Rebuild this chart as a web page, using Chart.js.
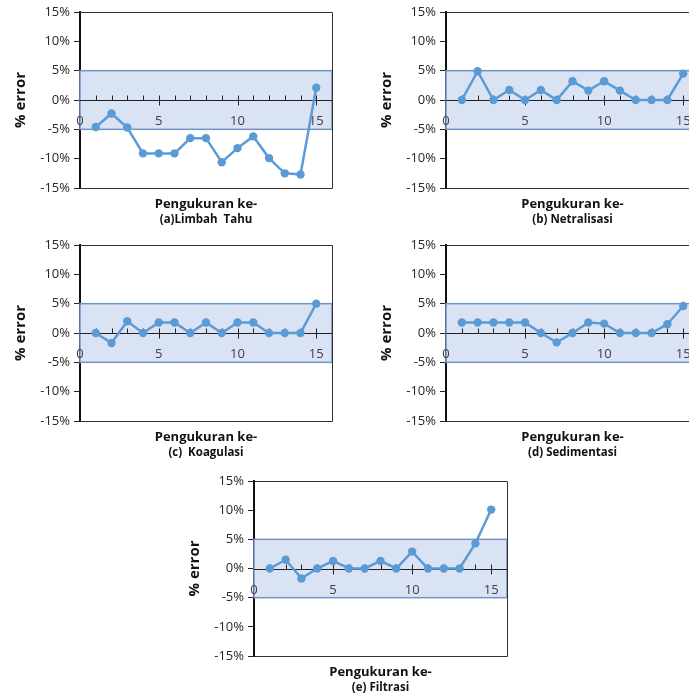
<!DOCTYPE html>
<html>
<head>
<meta charset="utf-8">
<script src="https://cdn.jsdelivr.net/npm/chart.js@4"></script>
<style>
  html, body { margin: 0; padding: 0; background: #fff; overflow: hidden; }
  #wrap { position: relative; width: 689px; height: 700px; overflow: hidden; }
  .panel { position: absolute; }
</style>
</head>
<body>
<div id="wrap"></div>
<script>
// Nomor pengukuran (sumbu x)
const pengukuran = [1, 2, 3, 4, 5, 6, 7, 8, 9, 10, 11, 12, 13, 14, 15];

// % error tiap tahap pengolahan
const limbahTahu  = [-4.6, -2.3, -4.7, -9.1, -9.1, -9.1, -6.5, -6.5, -10.6, -8.2, -6.2, -9.9, -12.5, -12.7, 2.1];
const netralisasi = [0, 4.9, 0, 1.7, 0, 1.7, 0, 3.2, 1.6, 3.2, 1.6, 0, 0, 0, 4.5];
const koagulasi   = [0, -1.7, 2.0, 0, 1.8, 1.8, 0, 1.8, 0, 1.8, 1.8, 0, 0, 0, 5.0];
const sedimentasi = [1.8, 1.8, 1.8, 1.8, 1.8, 0, -1.6, 0, 1.8, 1.6, 0, 0, 0, 1.5, 4.6];
const filtrasi    = [0, 1.5, -1.7, 0, 1.3, 0, 0, 1.3, 0, 2.9, 0, 0, 0, 4.3, 10.1];

// Batas error yang diizinkan (pita biru)
const batasError = [-5, 5];

// Label sumbu
const yTickValues = [-15, -10, -5, 0, 5, 10, 15];
const xTickLabels = [0, 5, 10, 15];
const xMax = 16;
const judulX = 'Pengukuran ke-';
const judulY = '% error';

const panels = [
  { caption: '(a)Limbah  Tahu',  values: limbahTahu,  left: 0,   top: 0,   width: 345, height: 232, padTop: 12, padRight: 13 },
  { caption: '(b) Netralisasi',  values: netralisasi, left: 366, top: 0,   width: 345, height: 232, padTop: 12, padRight: 12 },
  { caption: '(c)  Koagulasi',   values: koagulasi,   left: 0,   top: 233, width: 345, height: 232, padTop: 12, padRight: 13 },
  { caption: '(d) Sedimentasi',  values: sedimentasi, left: 366, top: 233, width: 345, height: 232, padTop: 12, padRight: 12 },
  { caption: '(e) Filtrasi',     values: filtrasi,    left: 174, top: 469, width: 345, height: 231, padTop: 12, padRight: 12 }
];

const FONT = "'Open Sans', 'Liberation Sans', sans-serif";

const decor = {
  id: 'decor',
  beforeDatasetsDraw(chart) {
    const { ctx, chartArea: a, scales: { x, y } } = chart;
    const yTop = y.getPixelForValue(batasError[1]);
    const yBot = y.getPixelForValue(batasError[0]);
    ctx.save();
    // pita batas error
    ctx.fillStyle = '#dae3f3';
    ctx.fillRect(a.left, yTop, a.right - a.left, yBot - yTop);
    ctx.strokeStyle = '#7193c5';
    ctx.lineWidth = 1.5;
    ctx.strokeRect(a.left, yTop, a.right - a.left, yBot - yTop);

    // sumbu x pada garis 0%
    const y0 = Math.round(y.getPixelForValue(0)) + 0.5;
    ctx.strokeStyle = '#222';
    ctx.lineWidth = 1;
    ctx.beginPath();
    ctx.moveTo(a.left, y0);
    ctx.lineTo(a.right, y0);
    for (let i = 1; i < xMax; i++) {
      const px = Math.round(x.getPixelForValue(i)) + 0.5;
      if (xTickLabels.includes(i)) {
        ctx.moveTo(px, y0 - 5);
        ctx.lineTo(px, y0 + 5);
      } else {
        ctx.moveTo(px, y0 - 5);
        ctx.lineTo(px, y0);
      }
    }
    ctx.stroke();

    ctx.fillStyle = '#404040';
    ctx.font = '13px ' + FONT;
    ctx.textAlign = 'center';
    ctx.textBaseline = 'middle';
    xTickLabels.forEach(v => {
      ctx.fillText(String(v), x.getPixelForValue(v), y0 + 21);
    });
    ctx.restore();
  },
  afterDraw(chart, args, opts) {
    const { ctx, chartArea: a } = chart;
    ctx.save();
    // bingkai area plot
    ctx.strokeStyle = '#333';
    ctx.lineWidth = 1;
    ctx.beginPath();
    ctx.moveTo(a.left, a.top + 0.5);
    ctx.lineTo(a.right + 0.5, a.top + 0.5);
    ctx.lineTo(a.right + 0.5, a.bottom + 0.5);
    ctx.lineTo(a.left, a.bottom + 0.5);
    ctx.stroke();

    ctx.fillStyle = '#111';
    ctx.textAlign = 'center';
    ctx.textBaseline = 'middle';
    const cx = (a.left + a.right) / 2;
    ctx.font = 'bold 13px ' + FONT;
    ctx.fillText(judulX, cx, a.bottom + 16);
    ctx.font = 'bold 11.5px ' + FONT;
    ctx.fillText(opts.caption, cx, a.bottom + 32);

    ctx.translate(21, (a.top + a.bottom) / 2);
    ctx.rotate(-Math.PI / 2);
    ctx.font = 'bold 15px ' + FONT;
    ctx.fillText(judulY, 0, 0);
    ctx.restore();
  }
};

const wrap = document.getElementById('wrap');

panels.forEach(p => {
  const div = document.createElement('div');
  div.className = 'panel';
  div.style.left = p.left + 'px';
  div.style.top = p.top + 'px';
  div.style.width = p.width + 'px';
  div.style.height = p.height + 'px';
  const cv = document.createElement('canvas');
  div.appendChild(cv);
  wrap.appendChild(div);

  new Chart(cv, {
    type: 'line',
    data: {
      datasets: [{
        data: pengukuran.map((n, i) => ({ x: n, y: p.values[i] })),
        borderColor: '#5b9bd5',
        backgroundColor: '#5b9bd5',
        borderWidth: 2.5,
        pointRadius: 4.2,
        pointHoverRadius: 4.2,
        pointBorderWidth: 0,
        tension: 0,
        fill: false
      }]
    },
    options: {
      responsive: true,
      maintainAspectRatio: false,
      animation: false,
      events: [],
      layout: { padding: { left: 0, top: p.padTop, right: p.padRight, bottom: 44 } },
      plugins: {
        legend: { display: false },
        tooltip: { enabled: false },
        decor: { caption: p.caption }
      },
      scales: {
        x: { type: 'linear', min: 0, max: xMax, display: false },
        y: {
          type: 'linear',
          min: yTickValues[0],
          max: yTickValues[yTickValues.length - 1],
          afterFit(scale) { scale.width = 80; },
          afterBuildTicks(scale) { scale.ticks = yTickValues.map(v => ({ value: v })); },
          ticks: {
            callback: v => v + '%',
            color: '#262626',
            font: { family: FONT, size: 13 },
            padding: 4
          },
          grid: { drawOnChartArea: false, drawTicks: true, tickLength: 6, color: '#222' },
          border: { display: true, color: '#111', width: 2 }
        }
      }
    },
    plugins: [decor]
  });
});
</script>
</body>
</html>
